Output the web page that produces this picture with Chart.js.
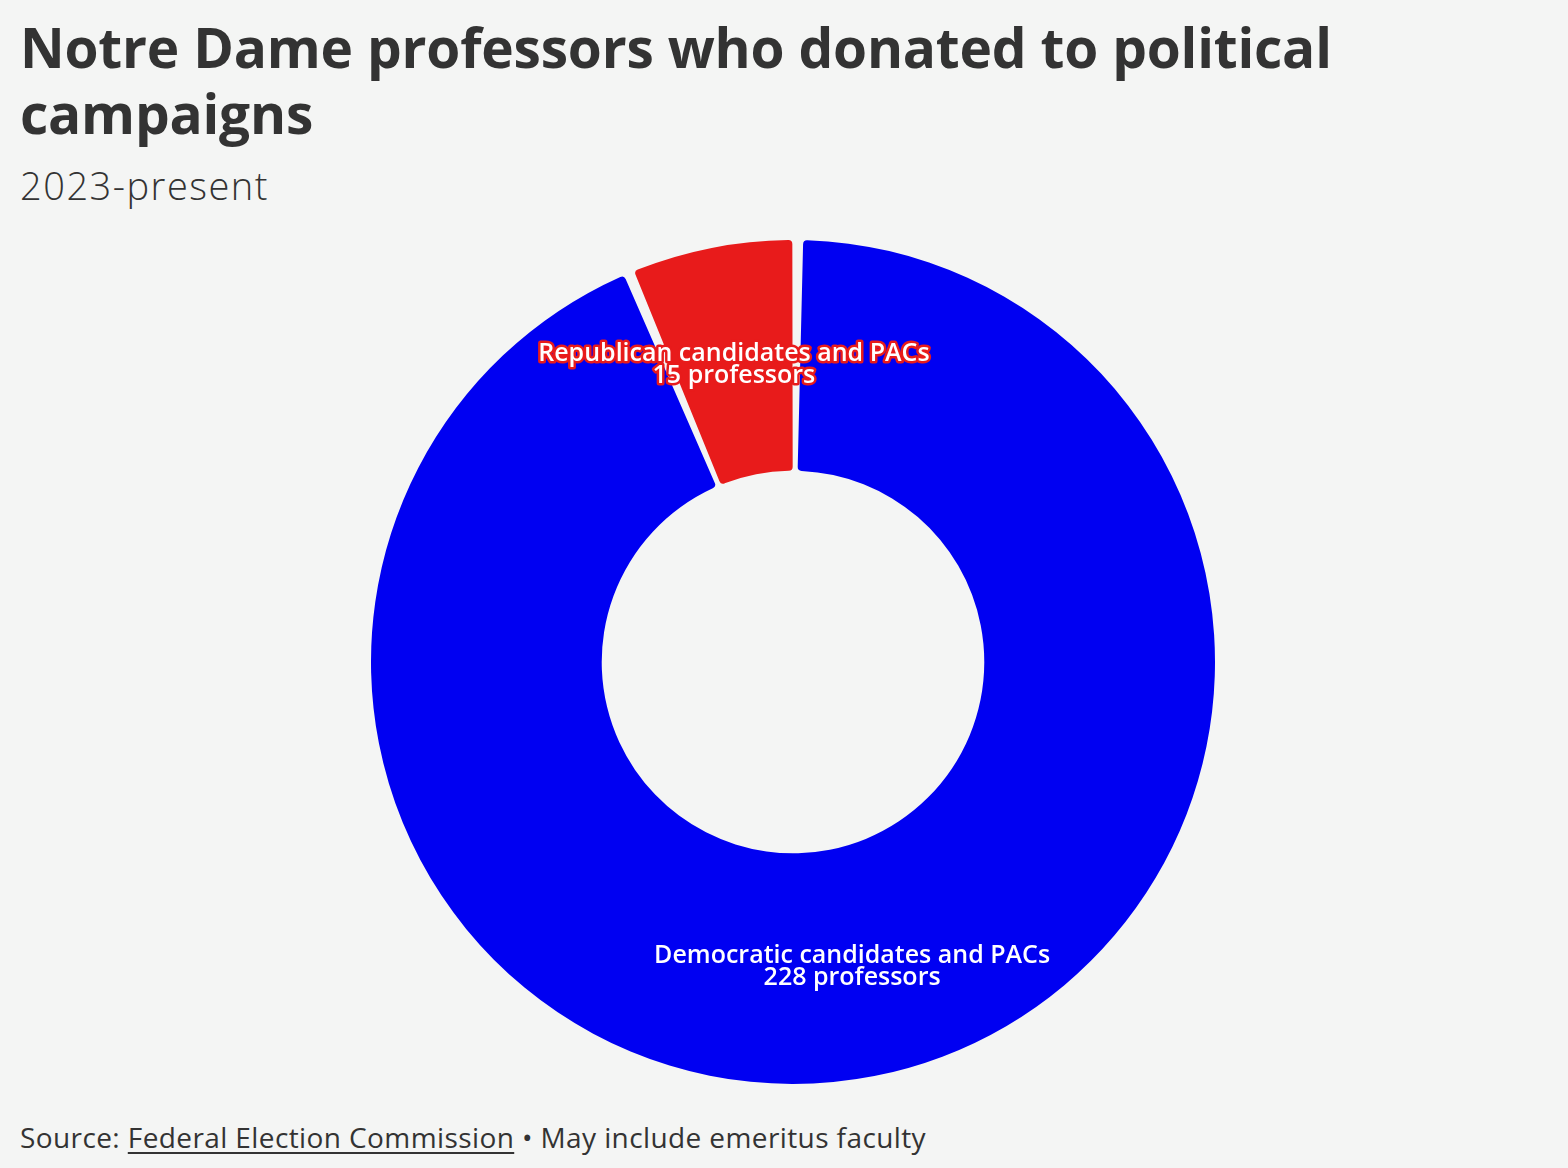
<!DOCTYPE html>
<html>
<head>
<meta charset="utf-8">
<script src="https://cdn.jsdelivr.net/npm/chart.js@4"></script>
<style>
  html, body { margin: 0; padding: 0; background: #f4f5f4; }
  body { width: 1568px; height: 1168px; position: relative; overflow: hidden; font-family: "Open Sans", Roboto, sans-serif; color: #333; }
  h1 { position: absolute; left: 20px; top: 14px; margin: 0; font-size: 55px; line-height: 66px; font-weight: 700; width: 1400px; letter-spacing: -0.2px; }
  .sub { position: absolute; left: 20px; top: 159px; font-size: 38px; font-weight: 300; letter-spacing: 1.5px; }
  .src { position: absolute; left: 20px; top: 1118px; font-size: 28px; font-weight: 400; letter-spacing: 0.4px; }
  .src u { text-underline-offset: 4px; }
  #wrap { position: absolute; left: 371px; top: 240px; width: 844px; height: 844px; }
</style>
</head>
<body>
<h1>Notre Dame professors who donated to political campaigns</h1>
<div class="sub">2023-present</div>
<div id="wrap"><canvas id="chart"></canvas></div>
<div class="src">Source: <u>Federal Election Commission</u> • May include emeritus faculty</div>
<script>
// dados
var categorias = ['Democratic candidates and PACs', 'Republican candidates and PACs'];
var professores = [228, 15];
var cores = ['#0000f2', '#e81b1b'];

// rótulos dentro de cada fatia, com contorno na cor da fatia
var rotulos = {
  id: 'rotulos',
  afterDatasetsDraw: function (chart) {
    var ctx = chart.ctx;
    var meta = chart.getDatasetMeta(0);
    ctx.save();
    ctx.font = '600 25px "Open Sans", Roboto, sans-serif';
    ctx.textAlign = 'center';
    ctx.textBaseline = 'middle';
    ctx.lineJoin = 'round';
    meta.data.forEach(function (arc, i) {
      var p = arc.tooltipPosition();
      var linhas = [categorias[i], professores[i] + ' professors'];
      linhas.forEach(function (t, j) {
        var y = p.y - 7 + j * 22;
        ctx.lineWidth = 5;
        ctx.strokeStyle = cores[i];
        ctx.strokeText(t, p.x, y);
      });
      linhas.forEach(function (t, j) {
        ctx.fillStyle = '#ffffff';
        ctx.fillText(t, p.x, p.y - 7 + j * 22);
      });
    });
    ctx.restore();
  }
};

new Chart(document.getElementById('chart').getContext('2d'), {
  type: 'doughnut',
  data: {
    labels: categorias,
    datasets: [{
      data: professores,
      backgroundColor: cores,
      borderWidth: 0,
      borderRadius: 4,
      spacing: 5
    }]
  },
  options: {
    responsive: true,
    maintainAspectRatio: false,
    animation: false,
    cutout: '45%',
    plugins: { legend: { display: false }, tooltip: { enabled: false } }
  },
  plugins: [rotulos]
});
</script>
</body>
</html>
